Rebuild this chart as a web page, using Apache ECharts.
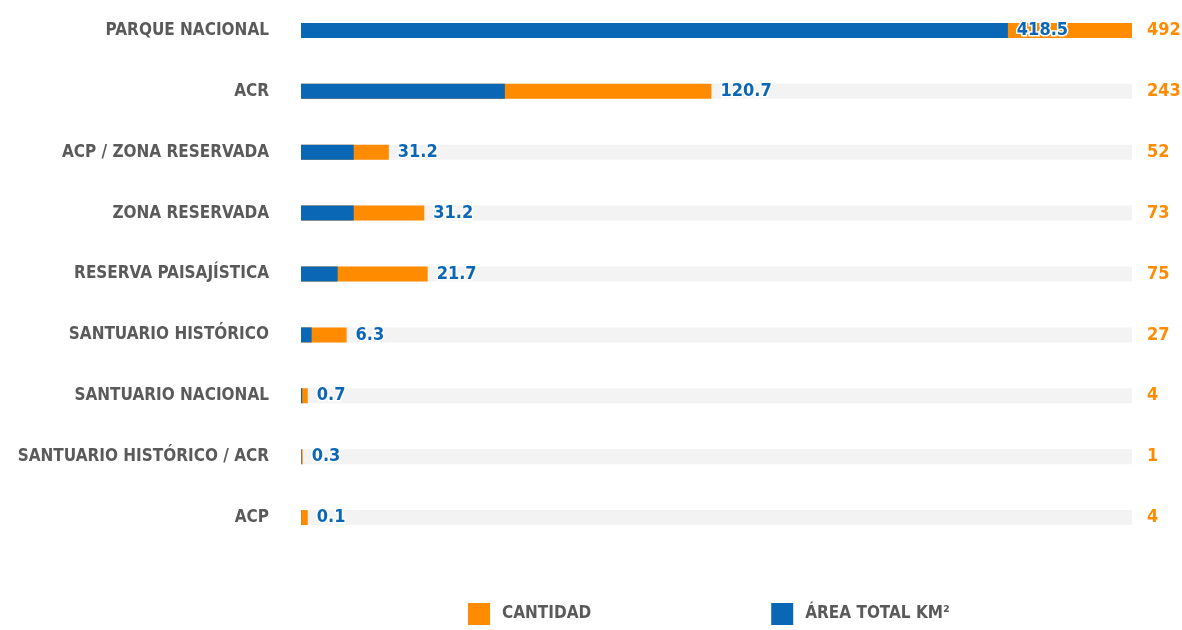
<!DOCTYPE html>
<html>
<head>
<meta charset="utf-8">
<script src="https://cdn.jsdelivr.net/npm/echarts@6/dist/echarts.min.js"></script>
<style>html,body{margin:0;padding:0;background:#fff}#c{width:1182px;height:630px}</style>
</head>
<body>
<div id="c"></div>
<script>
const categories = ['PARQUE NACIONAL','ACR','ACP / ZONA RESERVADA','ZONA RESERVADA','RESERVA PAISAJÍSTICA','SANTUARIO HISTÓRICO','SANTUARIO NACIONAL','SANTUARIO HISTÓRICO / ACR','ACP'];
const cantidad = [492, 243, 52, 73, 75, 27, 4, 1, 4];
const areaTotal = [418.5, 120.7, 31.2, 31.2, 21.7, 6.3, 0.7, 0.3, 0.1];
const seriesNames = ['CANTIDAD', 'ÁREA TOTAL KM²'];

const FONT = "'DejaVu Sans Condensed', 'Liberation Sans Narrow', sans-serif";
const ORANGE = '#FF8C00';
const BLUE = '#0A67B5';
const GRAY = '#5a5a5a';

const chart = echarts.init(document.getElementById('c'));
const labelBase = {
  color: BLUE, fontFamily: FONT, fontWeight: 'bold', fontSize: 18,
  textBorderColor: '#fff', textBorderWidth: 3, distance: 9
};
chart.setOption({
  animation: false,
  grid: { left: 301, right: 50, top: 0, bottom: 82, containLabel: false, outerBoundsMode: 'none' },
  xAxis: { type: 'value', min: 0, max: 'dataMax', show: false },
  yAxis: [
    { type: 'category', data: categories, inverse: true,
      axisLine: { show: false }, axisTick: { show: false },
      axisLabel: { color: GRAY, fontFamily: FONT, fontWeight: 'bold', fontSize: 17, margin: 32 } },
    { type: 'category', data: cantidad.map(String), inverse: true, position: 'right',
      axisLine: { show: false }, axisTick: { show: false },
      axisLabel: { color: ORANGE, fontFamily: FONT, fontWeight: 'bold', fontSize: 18, margin: 15, align: 'left' } }
  ],
  legend: {
    bottom: 0, left: 463, itemWidth: 22, itemHeight: 22, itemGap: 180,
    icon: 'rect',
    textStyle: { color: GRAY, fontFamily: FONT, fontWeight: 'bold', fontSize: 17, padding: [0, 0, 0, 7] },
    data: seriesNames
  },
  series: [
    { name: seriesNames[0], type: 'bar', yAxisIndex: 0, barWidth: 15,
      itemStyle: { color: ORANGE },
      showBackground: true, backgroundStyle: { color: '#F3F3F3' },
      data: cantidad.map((v, i) => i === 0 ? { value: v, label: { show: false } } : v),
      label: Object.assign({ show: true, position: 'right',
        formatter: p => String(areaTotal[p.dataIndex]) }, labelBase),
      z: 2 },
    { name: seriesNames[1], type: 'bar', yAxisIndex: 0, barWidth: 15, barGap: '-100%',
      itemStyle: { color: BLUE },
      data: areaTotal.map((v, i) => i === 0 ? { value: v, label: Object.assign({ show: true, position: 'right' }, labelBase) } : v),
      label: { show: false },
      z: 3 }
  ]
});
</script>
</body>
</html>
